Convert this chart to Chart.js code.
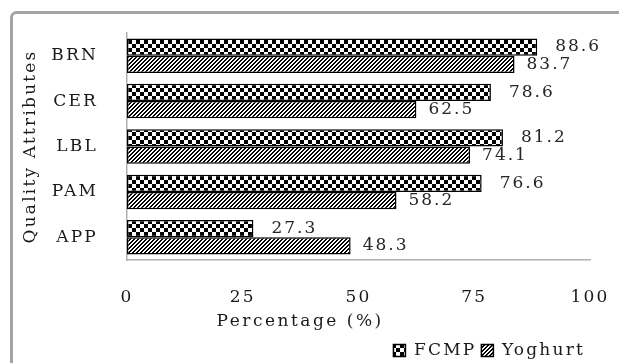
<!DOCTYPE html>
<html>
<head>
<meta charset="utf-8">
<script src="https://cdn.jsdelivr.net/npm/chart.js@4"></script>
<style>
  html, body { margin: 0; padding: 0; background: #fff; }
  #wrap { width: 619px; height: 363px; }
</style>
</head>
<body>
<div id="wrap"><canvas id="c" width="619" height="363"></canvas></div>
<script>
const categories = ['BRN', 'CER', 'LBL', 'PAM', 'APP'];
const fcmpValues = [88.6, 78.6, 81.2, 76.6, 27.3];
const yoghurtValues = [83.7, 62.5, 74.1, 58.2, 48.3];
const seriesNames = ['FCMP', 'Yoghurt'];
const xTicks = [0, 25, 50, 75, 100];
const yTitle = 'Quality Attributes';
const xTitle = 'Percentage (%)';

const FONT = '"DejaVu Serif", "Liberation Serif", serif';
const SPACING = '2.2px';

function makePattern(kind) {
  const s = 8;
  const pc = document.createElement('canvas');
  pc.width = s; pc.height = s;
  const g = pc.getContext('2d');
  g.fillStyle = '#fff';
  g.fillRect(0, 0, s, s);
  g.fillStyle = '#000';
  for (let y = 0; y < s; y++) {
    for (let x = 0; x < s; x++) {
      let on;
      if (kind === 'check') {
        on = ((Math.floor(x / 4) + Math.floor(y / 4)) % 2) === 0;
      } else {
        on = ((x + y) % 4) < 2;
      }
      if (on) g.fillRect(x, y, 1, 1);
    }
  }
  return document.getElementById('c').getContext('2d').createPattern(pc, 'repeat');
}

const checkPat = makePattern('check');
const hatchPat = makePattern('hatch');

const bgPlugin = {
  id: 'bgBorder',
  beforeUpdate(chart) {
    chart.ctx.letterSpacing = SPACING;
  },
  beforeDraw(chart) {
    const ctx = chart.ctx;
    ctx.save();
    ctx.fillStyle = '#fff';
    ctx.fillRect(0, 0, chart.width, chart.height);
    ctx.strokeStyle = '#a3a3a3';
    ctx.lineWidth = 3;
    ctx.beginPath();
    ctx.roundRect(11.5, 12.5, 650, 400, 5);
    ctx.stroke();
    ctx.restore();
    ctx.letterSpacing = SPACING;
  }
};

const labelPlugin = {
  id: 'valueLabels',
  afterDatasetsDraw(chart) {
    const ctx = chart.ctx;
    const offsets = [18, 12];
    ctx.save();
    ctx.letterSpacing = '2px';
    ctx.font = '17px ' + FONT;
    ctx.fillStyle = '#262626';
    ctx.textAlign = 'left';
    ctx.textBaseline = 'middle';
    chart.data.datasets.forEach((ds, di) => {
      const meta = chart.getDatasetMeta(di);
      meta.data.forEach((bar, i) => {
        ctx.fillText(ds.data[i].toFixed(1), bar.x + offsets[di], bar.y);
      });
    });
    // x axis title
    const xs = chart.scales.x;
    ctx.letterSpacing = '2.5px';
    ctx.textAlign = 'center';
    ctx.fillStyle = '#1a1a1a';
    ctx.fillText(xTitle, xs.getPixelForValue(37.4), 322);
    ctx.restore();
  }
};

new Chart(document.getElementById('c'), {
  type: 'bar',
  data: {
    labels: categories,
    datasets: [
      { label: seriesNames[0], data: fcmpValues, backgroundColor: checkPat, borderColor: '#000', borderWidth: 1.5, borderSkipped: false },
      { label: seriesNames[1], data: yoghurtValues, backgroundColor: hatchPat, borderColor: '#000', borderWidth: 1.5, borderSkipped: false }
    ]
  },
  options: {
    indexAxis: 'y',
    responsive: false,
    animation: false,
    devicePixelRatio: 1,
    layout: { padding: { top: 33, right: 29, left: 0, bottom: -6 } },
    datasets: { bar: { categoryPercentage: 0.76, barPercentage: 1.0 } },
    plugins: {
      legend: {
        position: 'bottom',
        align: 'end',
        labels: {
          font: { family: FONT, size: 17 },
          color: '#1a1a1a',
          boxWidth: 12,
          boxHeight: 12,
          padding: 5
        }
      },
      tooltip: { enabled: false }
    },
    scales: {
      x: {
        min: 0, max: 100,
        afterBuildTicks(scale) { scale.ticks = xTicks.map(v => ({ value: v })); },
        afterFit(scale) { scale.height = 77; },
        grid: { display: false, drawTicks: true, tickLength: 26 },
        border: { display: true, color: '#b0b0b0', width: 1.5 },
        ticks: { font: { family: FONT, size: 17 }, color: '#1a1a1a', padding: 1, maxRotation: 0 }
      },
      y: {
        afterFit(scale) { scale.width = 127; },
        grid: { display: false, drawTicks: true, tickLength: 28 },
        border: { display: true, color: '#b0b0b0', width: 1.5 },
        ticks: { font: { family: FONT, size: 17 }, color: '#1a1a1a', padding: 1 },
        title: { display: true, text: yTitle, font: { family: FONT, size: 17 }, color: '#1a1a1a', padding: { top: 20, bottom: 0 } }
      }
    }
  },
  plugins: [bgPlugin, labelPlugin]
});
</script>
</body>
</html>
